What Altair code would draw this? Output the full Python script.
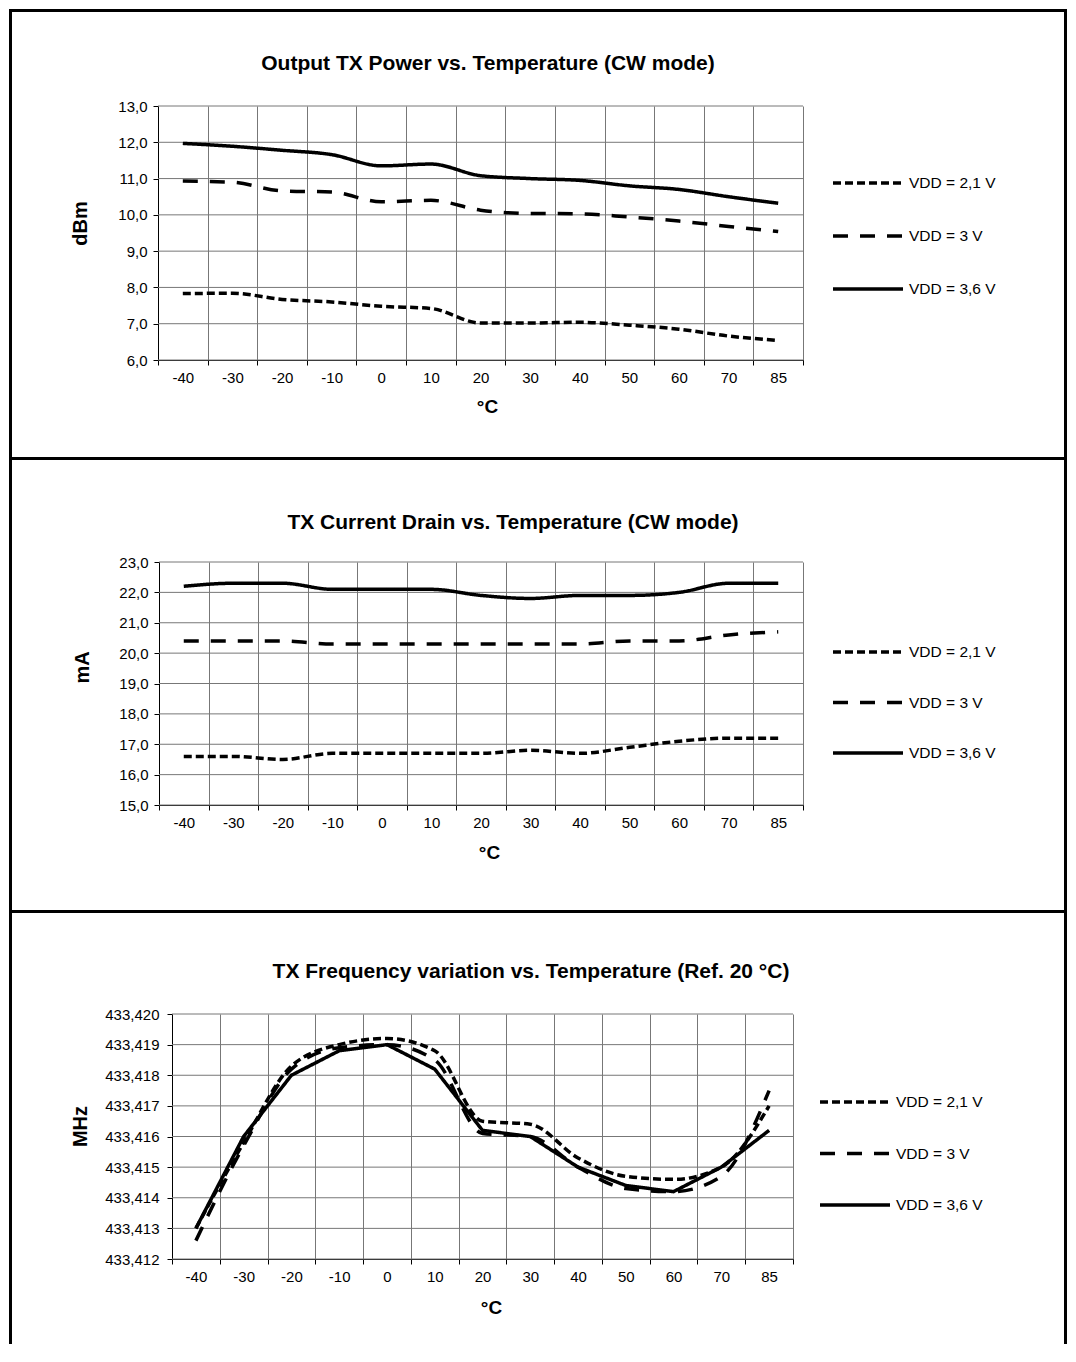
import altair as alt
import pandas as pd

FONT = "Liberation Sans"
GRID = "#777777"
OX = 157  # common page x of every panel's origin

temps = ["-40", "-30", "-20", "-10", "0", "10", "20", "30", "40", "50", "60", "70", "85"]
series_names = ["VDD = 2,1 V", "VDD = 3 V", "VDD = 3,6 V"]

# Output TX power (dBm)
pwr_21 = [7.83, 7.84, 7.67, 7.60, 7.48, 7.42, 7.02, 7.02, 7.04, 6.96, 6.85, 6.66, 6.54]
pwr_30 = [10.93, 10.90, 10.66, 10.63, 10.36, 10.40, 10.13, 10.04, 10.03, 9.94, 9.83, 9.68, 9.54]
pwr_36 = [11.97, 11.89, 11.78, 11.66, 11.35, 11.40, 11.08, 11.00, 10.95, 10.80, 10.70, 10.50, 10.32]

# TX current drain (mA)
cur_21 = [16.6, 16.6, 16.5, 16.7, 16.7, 16.7, 16.7, 16.8, 16.7, 16.9, 17.1, 17.2, 17.2]
cur_30 = [20.4, 20.4, 20.4, 20.3, 20.3, 20.3, 20.3, 20.3, 20.3, 20.4, 20.4, 20.6, 20.7]
cur_36 = [22.2, 22.3, 22.3, 22.1, 22.1, 22.1, 21.9, 21.8, 21.9, 21.9, 22.0, 22.3, 22.3]

# TX frequency (MHz)
frq_21 = [433.4130, 433.4158, 433.4183, 433.4190, 433.4192, 433.4188, 433.4165,
          433.4164, 433.4153, 433.4147, 433.4146, 433.4150, 433.4170]
frq_30 = [433.4126, 433.4157, 433.4182, 433.4189, 433.4190, 433.4185, 433.4161,
          433.4160, 433.4150, 433.4143, 433.4142, 433.4147, 433.4175]
frq_36 = [433.4130, 433.4160, 433.4180, 433.4188, 433.4190, 433.4182, 433.4162,
          433.4160, 433.4150, 433.4144, 433.4142, 433.4150, 433.4162]

dashes = [[8, 4], [15, 12], [1, 0]]


def make_df(a, b, c):
    rows = []
    for s, vals in zip(series_names, [a, b, c]):
        for t, v in zip(temps, vals):
            rows.append({"temp": t, "series": s, "value": v})
    return pd.DataFrame(rows)


one = pd.DataFrame({"k": [0]})


def bar(x1, y1, x2, y2):
    # solid black frame stroke drawn as a filled rectangle (exact bounds)
    return alt.Chart(one).mark_rect(color="black").encode(
        x=alt.value(x1), y=alt.value(y1), x2=alt.value(x2), y2=alt.value(y2))


def panel(df, ymin, ymax, ystep, dec, title, ytitle, g, split_solid=False):
    W, H = g["w"], g["h"]
    oy = g["oy"]
    x0 = g["px"] - OX  # plot-left offset inside the panel
    n = int(round((ymax - ymin) / ystep))
    yvals = [round(ymin + i * ystep, dec) for i in range(n + 1)]

    x_enc = alt.X(
        "temp:O", sort=temps, bandPosition=0.5,
        scale=alt.Scale(type="band", paddingInner=0, paddingOuter=0, domain=temps,
                        range=[x0, x0 + W]),
        axis=alt.Axis(
            title="°C", tickBand="extent", grid=True, gridColor=GRID, gridWidth=1,
            domainColor="black", tickColor="black", tickSize=5, labelAngle=0,
            labelFont=FONT, labelFontSize=15, labelColor="black", labelPadding=5,
            titleFont=FONT, titleFontSize=19, titleFontWeight="bold", titleColor="black",
            titleX=g["xtx"] - OX, titleY=g["xty"] - (oy + H),
            titleBaseline="middle", titleAlign="center"))
    y_enc = alt.Y(
        "value:Q",
        scale=alt.Scale(domain=[ymin, ymax], zero=False, nice=False),
        axis=alt.Axis(
            values=yvals, title=ytitle, offset=-x0,
            labelExpr=f"replace(format(datum.value, '.{dec}f'), '.', ',')",
            grid=False, domainColor="black",
            tickColor="black", tickSize=5, labelPadding=g["ypad"], labelFlush=False,
            labelFont=FONT, labelFontSize=15, labelColor="black",
            titleFont=FONT, titleFontSize=20, titleFontWeight="bold", titleColor="black",
            titleX=g["ytx"] - g["px"], titleY=g["yty"] - oy,
            titleBaseline="middle", titleAlign="center"))
    dash_enc = alt.StrokeDash(
        "series:N",
        scale=alt.Scale(domain=series_names, range=dashes),
        legend=alt.Legend(
            title=None, orient="none", legendX=g["lx"] - 3 - OX, legendY=g["ly"] - 10 - oy,
            symbolType="stroke", symbolSize=4900, symbolStrokeWidth=3.5,
            symbolStrokeColor="black", clipHeight=20, rowPadding=g["lsp"] - 20,
            labelFont=FONT, labelFontSize=15.5, labelColor="black", labelOffset=4,
            padding=0))

    # horizontal grid lines at the y tick values
    grid = alt.Chart(pd.DataFrame({"value": yvals})).mark_rule(
        color=GRID, strokeWidth=1).encode(
        y=y_enc, x=alt.value(x0), x2=alt.value(x0 + W))

    base = alt.Chart(df).encode(x=x_enc, y=y_enc, strokeDash=dash_enc)
    if split_solid:
        dashed = base.transform_filter(alt.datum.series != series_names[2]).mark_line(
            interpolate="monotone", strokeWidth=3.5, color="black", strokeCap="butt")
        solid = base.transform_filter(alt.datum.series == series_names[2]).mark_line(
            interpolate="linear", strokeWidth=3.5, color="black", strokeCap="butt")
        lines = [dashed, solid]
    else:
        lines = [base.mark_line(interpolate="monotone", strokeWidth=3.5, color="black",
                                strokeCap="butt")]

    L1, L2 = 8 - OX, 11 - OX
    R1, R2 = 1063 - OX, 1066 - OX
    t, b = g["ft"] - oy, g["fb"] - oy
    frame = [bar(L1, t, L2, b), bar(R1, t, R2, b)]
    if g.get("top_line"):
        frame.append(bar(L1, t, R2, t + 3))
    if g.get("div") is not None:
        d = g["div"] - oy
        frame.append(bar(L1, d - 1.5, R2, d + 1.5))

    ttl = alt.Chart(one).mark_text(
        text=title, font=FONT, fontSize=21, fontWeight="bold", color="black",
        align="center", baseline="middle").encode(
        x=alt.value(g["tx"] - OX), y=alt.value(g["ty"] - oy))

    return alt.layer(grid, *frame, ttl, *lines).properties(width=x0 + W, height=H)


g1 = dict(px=157, oy=105, w=645, h=254, ft=8, fb=465, top_line=True, div=457.5,
          tx=487, ty=63, xtx=486, xty=405, ytx=79, yty=222, ypad=6,
          lx=833, ly=182, lsp=53)
g2 = dict(px=158, oy=562, w=644, h=243, ft=465, fb=918, div=911.5,
          tx=512, ty=523, xtx=488, xty=852, ytx=81, yty=667, ypad=6,
          lx=833, ly=652, lsp=50.5)
g3 = dict(px=171, oy=1015, w=621, h=245, ft=918, fb=1345, div=None,
          tx=530, ty=973, xtx=490, xty=1308, ytx=79, yty=1127, ypad=8,
          lx=820, ly=1103, lsp=51.5)

p1 = panel(make_df(pwr_21, pwr_30, pwr_36), 6.0, 13.0, 1.0, 1,
           "Output TX Power vs. Temperature (CW mode)", "dBm", g1)
p2 = panel(make_df(cur_21, cur_30, cur_36), 15.0, 23.0, 1.0, 1,
           "TX Current Drain vs. Temperature (CW mode)", "mA", g2)
p3 = panel(make_df(frq_21, frq_30, frq_36), 433.412, 433.420, 0.001, 3,
           "TX Frequency variation vs. Temperature (Ref. 20 °C)", "MHz", g3, split_solid=True)

chart = alt.vconcat(p1, p2, p3, spacing=-3, padding=0).resolve_scale(
    x="independent", y="independent", strokeDash="independent"
).resolve_legend(strokeDash="independent").configure_view(stroke="transparent")

chart.save("out.html", embed_options={"renderer": "svg", "actions": False})
